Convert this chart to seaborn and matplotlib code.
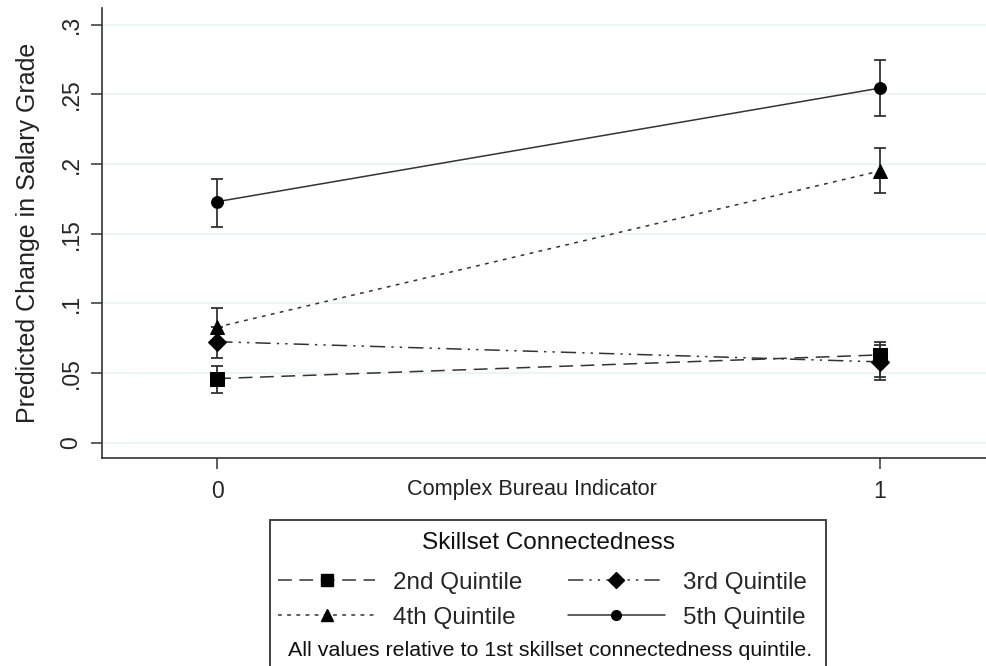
import numpy as np
import pandas as pd
import seaborn as sns
import matplotlib.pyplot as plt
from matplotlib.patches import Rectangle

# data
bureau = [0, 1]
groups = ["2nd Quintile", "3rd Quintile", "4th Quintile", "5th Quintile"]
q2 = [0.046, 0.063]
q2_lo = [0.036, 0.045]
q2_hi = [0.055, 0.0725]
q3 = [0.0725, 0.058]
q3_lo = [0.061, 0.047]
q3_hi = [0.083, 0.070]
q4 = [0.083, 0.195]
q4_lo = [0.071, 0.179]
q4_hi = [0.0965, 0.2115]
q5 = [0.173, 0.2545]
q5_lo = [0.155, 0.2345]
q5_hi = [0.189, 0.275]
yticks = [0, 0.05, 0.1, 0.15, 0.2, 0.25, 0.3]
ytick_labels = ["0", ".05", ".1", ".15", ".2", ".25", ".3"]

sns.set_style("white")
plt.rcParams["font.family"] = ["Liberation Sans", "DejaVu Sans"]

fig = plt.figure(figsize=(9.86, 6.66), dpi=100)
ax = fig.add_axes([0.1034, 0.3123, 0.8966, 0.6757])

series = [
    (q2, q2_lo, q2_hi, "s", (0, (9, 5)), 10),
    (q3, q3_lo, q3_hi, "D", (0, (10, 4, 1.5, 4, 1.5, 4)), 9.5),
    (q4, q4_lo, q4_hi, "^", (0, (2.5, 3.5)), 10),
    (q5, q5_lo, q5_hi, "o", "-", 8.5),
]

handles = {}
for name, (vals, lo, hi, mk, ls, ms) in zip(groups, series):
    df = pd.DataFrame({"x": bureau, "y": vals})
    sns.lineplot(data=df, x="x", y="y", ax=ax, color="#333333", lw=1.1,
                 linestyle=ls, marker=mk, markersize=ms,
                 markerfacecolor="black", markeredgecolor="black", zorder=3)
    v = np.array(vals)
    ax.errorbar(bureau, v, yerr=[v - np.array(lo), np.array(hi) - v],
                fmt="none", ecolor="#333333", elinewidth=1.3, capsize=4.5,
                capthick=1.3, zorder=2)
    handles[name] = plt.Line2D([], [], color="#333333", lw=1.1, linestyle=ls,
                               marker=mk, markersize=ms - 1.5,
                               markerfacecolor="black", markeredgecolor="black",
                               label=name)

ax.set_xlim(-0.174, 1.16)
ax.set_ylim(-0.011, 0.312)
ax.set_xticks([0, 1])
ax.set_xticklabels(["0", "1"], fontsize=16.5)
ax.set_yticks(yticks)
ax.set_yticklabels(ytick_labels, fontsize=16.5, rotation=90, va="center")
ax.yaxis.grid(True, color="#eaf2f3", lw=1.2)
ax.tick_params(axis="both", direction="out", length=8, width=1.1,
               color="#333333", left=True, bottom=True, pad=6)
ax.tick_params(axis="x", pad=8)
for s in ["top", "right"]:
    ax.spines[s].set_visible(False)
for s in ["left", "bottom"]:
    ax.spines[s].set_color("#333333")
    ax.spines[s].set_linewidth(1.2)
ax.set_ylabel("Predicted Change in Salary Grade", fontsize=18, labelpad=14,
              color="#222222")
ax.set_xlabel("")
fig.text(0.539, 0.265, "Complex Bureau Indicator", fontsize=15.6,
         ha="center", va="center", color="#222222")

# legend box, filled row by row like the original
order = ["2nd Quintile", "4th Quintile", "3rd Quintile", "5th Quintile"]
fig.patches.append(Rectangle((0.2738, -0.01), 0.5639, 0.229,
                             transform=fig.transFigure, fill=False,
                             edgecolor="#333333", lw=1.3))
fig.text(0.556, 0.1847, "Skillset Connectedness", fontsize=17.6,
         ha="center", va="center", color="#111111")
leg = fig.legend(handles=[handles[k] for k in order], ncol=2,
                 loc="upper center", bbox_to_anchor=(0.55, 0.160),
                 frameon=False, fontsize=17.5, handlelength=4.0,
                 columnspacing=1.85, handletextpad=0.74, labelspacing=0.55,
                 borderpad=0.0)
fig.text(0.558, 0.024, "All values relative to 1st skillset connectedness quintile.",
         fontsize=15.4, ha="center", va="center", color="#111111")

fig.savefig("out.png", dpi=100)
